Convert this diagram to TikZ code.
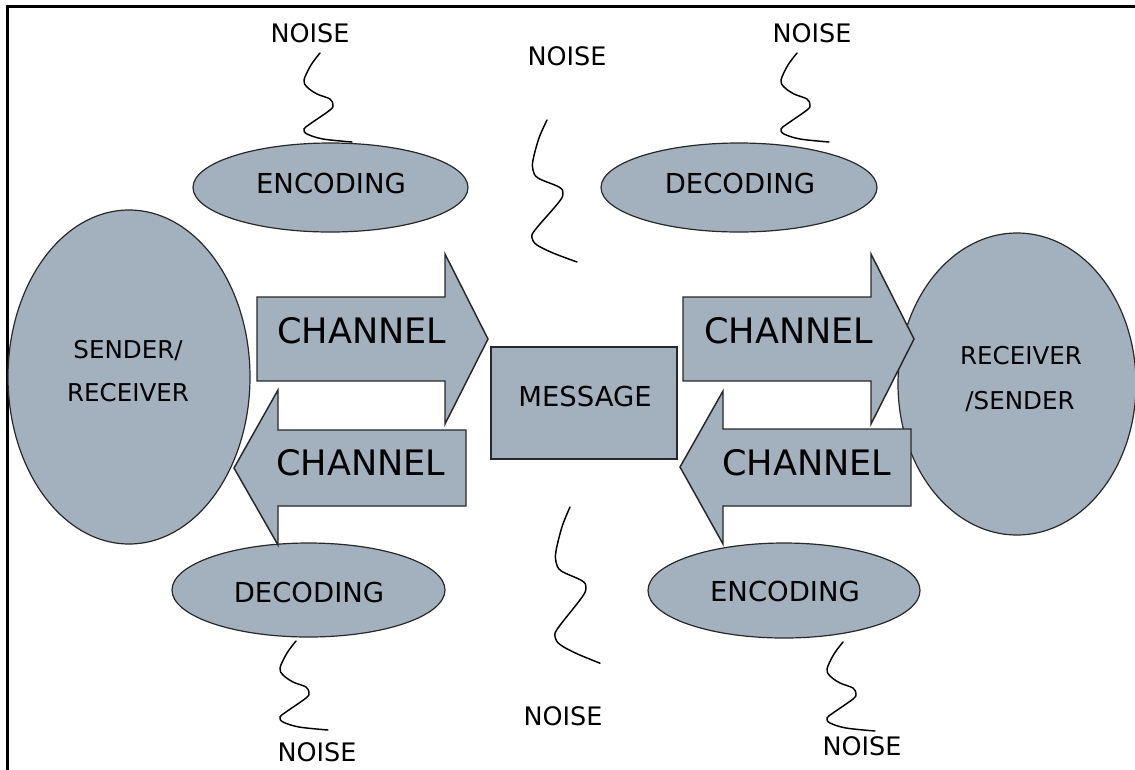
\documentclass[tikz,border=0pt]{standalone}
\usepackage{fontspec}
\setmainfont{DejaVu Sans}
\usetikzlibrary{shapes.geometric}
\definecolor{fillblue}{RGB}{163,176,190}
\definecolor{edgegray}{RGB}{40,40,40}
\begin{document}
\begin{tikzpicture}[x=0.75pt,y=-0.75pt,
  blob/.style={ellipse, draw=edgegray, fill=fillblue, line width=0.9pt, inner sep=0pt},
  chan/.style={draw=edgegray, fill=fillblue, line width=1.1pt, line join=miter},
  msgbox/.style={rectangle, draw=edgegray, fill=fillblue, line width=1.1pt, inner sep=0pt},
  wig/.style={line width=1.1pt, black, line cap=round},
  txt/.style={anchor=base, inner sep=0pt},
  bigtxt/.style={txt, font=\fontsize{26.3}{30}\selectfont},
  midtxt/.style={txt, font=\fontsize{20.6}{24}\selectfont},
  noisetxt/.style={txt, font=\fontsize{19.1}{22}\selectfont},
  sidetxt/.style={txt, font=\fontsize{18.4}{22}\selectfont}
]
\useasboundingbox (0,0) rectangle (1135,769);
\clip (0,0) rectangle (1135,769);
\fill[white] (0,0) rectangle (1135,769);
\draw[line width=2.25pt] (7.5,1000) -- (7.5,6) -- (1300,6);

% ellipses
\node[blob, minimum width=0.75*242pt, minimum height=0.75*334pt] (sender) at (129,377) {};
\node[blob, minimum width=0.75*238pt, minimum height=0.75*302pt] (receiver) at (1017,384) {};
\node[blob, minimum width=0.75*275pt, minimum height=0.75*89pt] (enctop) at (330.5,187.5) {};
\node[blob, minimum width=0.75*276pt, minimum height=0.75*89pt] (dectop) at (739,187.5) {};
\node[blob, minimum width=0.75*273pt, minimum height=0.75*94pt] (decbot) at (308.5,590) {};
\node[blob, minimum width=0.75*272pt, minimum height=0.75*95pt] (encbot) at (784,590.5) {};

% channel arrows
\draw[chan] (257,297) -- (445,297) -- (445,254) -- (488,339) -- (445,424) -- (445,381) -- (257,381) -- cycle;
\draw[chan] (466,430) -- (278,430) -- (278,390) -- (234,468) -- (278,545) -- (278,506) -- (466,506) -- cycle;
\draw[chan] (683,297) -- (871,297) -- (871,254) -- (914,339) -- (871,424) -- (871,381) -- (683,381) -- cycle;
\draw[chan] (911,429) -- (723,429) -- (723,391) -- (680,467) -- (723,544) -- (723,506) -- (911,506) -- cycle;

% message
\node[msgbox, minimum width=0.75*186pt, minimum height=0.75*112pt] (msg) at (584,403) {};

% noise squiggles (short ones at the ellipses)
\foreach \sx/\sy in {320/53, 797/53, 296/641, 843/642}{
  \draw[wig, shift={(\sx,\sy)}] plot[smooth, tension=0.55] coordinates
    {(0,0) (-9,12) (-16,27) (-13,34) (-3,41) (10,46) (13,52) (10,57) (-10,71) (-16,76) (-13,81) (3,86) (32,89)};
}
% long ones near the message
\foreach \sx/\sy/\sc in {547/120/1, 570/507/1.1}{
  \draw[wig, shift={(\sx,\sy)}, yscale=\sc] plot[smooth, tension=0.55] coordinates
    {(0,0) (-8,18) (-14,40) (-14,50) (-9,58) (12,67) (16,73) (12,82) (-12,110) (-15,118) (-10,125) (6,133) (30,142)};
}

% texts
\node[bigtxt] (ch1) at (362,343) {CHANNEL};
\node[bigtxt] (ch2) at (361,475) {CHANNEL};
\node[bigtxt] (ch3) at (789,343) {CHANNEL};
\node[bigtxt] (ch4) at (807,475) {CHANNEL};
\node[midtxt] (msgt) at (585,406) {MESSAGE};
\node[midtxt] (enc1) at (331,193) {ENCODING};
\node[midtxt] (dec1) at (740,193) {DECODING};
\node[midtxt] (dec2) at (309,602) {DECODING};
\node[midtxt] (enc2) at (785,601) {ENCODING};
\node[sidetxt] (s1) at (128,358) {SENDER/};
\node[sidetxt] (s2) at (128,401) {RECEIVER};
\node[sidetxt] (r1) at (1021,364) {RECEIVER};
\node[sidetxt] (r2) at (1020,409) {/SENDER};
\node[noisetxt] (n1) at (310,42) {NOISE};
\node[noisetxt] (n2) at (567,65) {NOISE};
\node[noisetxt] (n3) at (812,42) {NOISE};
\node[noisetxt] (n4) at (317,761) {NOISE};
\node[noisetxt] (n5) at (563,725) {NOISE};
\node[noisetxt] (n6) at (862,755) {NOISE};
\end{tikzpicture}
\end{document}
